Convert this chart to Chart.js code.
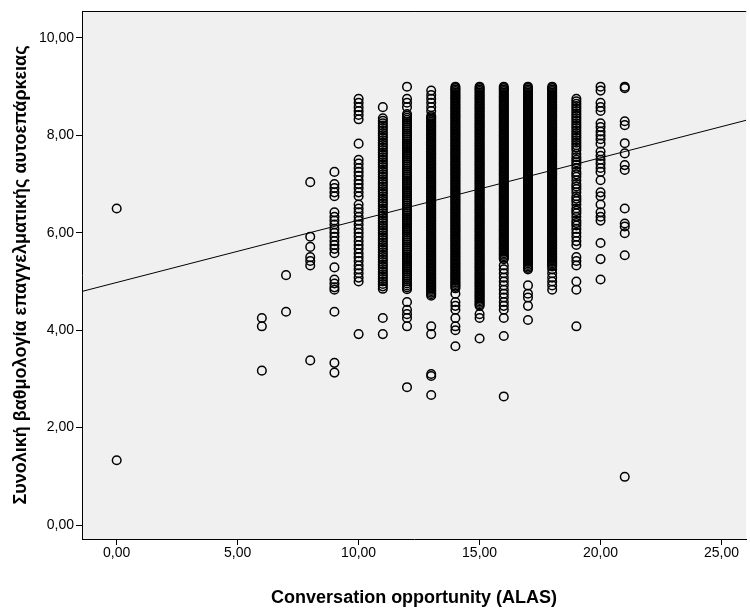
<!DOCTYPE html>
<html>
<head>
<meta charset="utf-8">
<script src="https://cdn.jsdelivr.net/npm/chart.js@4.4.1/dist/chart.umd.min.js"></script>
<style>
html,body{margin:0;padding:0;overflow:hidden;background:#fff;width:750px;height:611px;}
#wrap{width:752px;height:611px;position:relative;}
</style>
</head>
<body>
<div id="wrap"><canvas id="c"></canvas></div>
<script>
// ---- data ----
const xTitle = "Conversation opportunity (ALAS)";
const yTitle = "Συνολική βαθμολογία επαγγελματικής αυτοεπάρκειας";
const xTicks = [0, 5, 10, 15, 20, 25];
const yTicks = [0, 2, 4, 6, 8, 10];
const xMin = -1.434, xMax = 26.02;
const yMin = -0.287, yMax = 10.554;
const regIntercept = 4.98;
const regSlope = 0.128;

const xCategories = [0, 6, 7, 8, 9, 10, 11, 12, 13, 14, 15, 16, 17, 18, 19, 20, 21];

const y0 = [6.50, 1.33];
const y6 = [4.25, 4.08, 3.17];
const y7 = [5.13, 4.38];
const y8 = [7.04, 5.92, 5.71, 5.50, 5.42, 5.33, 3.38];
const y9 = [7.25, 7.00, 6.92, 6.83, 6.75, 6.42, 6.33, 6.25, 6.17, 6.08, 6.00, 5.92, 5.83, 5.75, 5.67, 5.58, 5.29, 5.04, 4.96, 4.88, 4.83, 4.38, 3.33, 3.13];
const y10 = [8.75, 8.67, 8.58, 8.50, 8.42, 8.33, 7.83, 7.50, 7.42, 7.33, 7.25, 7.17, 7.08, 7.00, 6.92, 6.83, 6.75, 6.58, 6.50, 6.42, 6.33, 6.25, 6.17, 6.08, 6.00, 5.92, 5.83, 5.75, 5.67, 5.58, 5.50, 5.42, 5.33, 5.25, 5.17, 5.08, 5.00, 3.92];
const y11 = [8.58, 8.35, 8.30, 8.25, 8.20, 8.15, 8.10, 8.05, 8.00, 7.95, 7.90, 7.85, 7.80, 7.75, 7.70, 7.65, 7.60, 7.55, 7.50, 7.45, 7.40, 7.35, 7.30, 7.25, 7.20, 7.15, 7.10, 7.05, 7.00, 6.95, 6.90, 6.85, 6.80, 6.75, 6.70, 6.65, 6.60, 6.55, 6.50, 6.45, 6.40, 6.35, 6.30, 6.25, 6.20, 6.15, 6.10, 6.05, 6.00, 5.95, 5.90, 5.85, 5.80, 5.75, 5.70, 5.65, 5.60, 5.55, 5.50, 5.45, 5.40, 5.35, 5.30, 5.25, 5.20, 5.15, 5.10, 5.05, 5.00, 4.95, 4.90, 4.85, 4.25, 3.92];
const y12 = [9.00, 8.75, 8.67, 8.58, 8.44, 8.40, 8.36, 8.32, 8.28, 8.24, 8.20, 8.16, 8.12, 8.08, 8.04, 8.00, 7.96, 7.92, 7.88, 7.84, 7.80, 7.76, 7.72, 7.68, 7.64, 7.60, 7.56, 7.52, 7.48, 7.44, 7.40, 7.36, 7.32, 7.28, 7.24, 7.20, 7.16, 7.12, 7.08, 7.04, 7.00, 6.96, 6.92, 6.88, 6.84, 6.80, 6.76, 6.72, 6.68, 6.64, 6.60, 6.56, 6.52, 6.48, 6.44, 6.40, 6.36, 6.32, 6.28, 6.24, 6.20, 6.16, 6.12, 6.08, 6.04, 6.00, 5.96, 5.92, 5.88, 5.84, 5.80, 5.76, 5.72, 5.68, 5.64, 5.60, 5.56, 5.52, 5.48, 5.44, 5.40, 5.36, 5.32, 5.28, 5.24, 5.20, 5.16, 5.12, 5.08, 5.04, 5.00, 4.96, 4.92, 4.88, 4.84, 4.58, 4.42, 4.33, 4.25, 4.08, 2.83];
const y13 = [8.92, 8.83, 8.75, 8.67, 8.58, 8.50, 8.40, 8.37, 8.34, 8.31, 8.28, 8.25, 8.22, 8.19, 8.16, 8.13, 8.10, 8.07, 8.04, 8.01, 7.98, 7.95, 7.92, 7.89, 7.86, 7.83, 7.80, 7.77, 7.74, 7.71, 7.68, 7.65, 7.62, 7.59, 7.56, 7.53, 7.50, 7.47, 7.44, 7.41, 7.38, 7.35, 7.32, 7.29, 7.26, 7.23, 7.20, 7.17, 7.14, 7.11, 7.08, 7.05, 7.02, 6.99, 6.96, 6.93, 6.90, 6.87, 6.84, 6.81, 6.78, 6.75, 6.72, 6.69, 6.66, 6.63, 6.60, 6.57, 6.54, 6.51, 6.48, 6.45, 6.42, 6.39, 6.36, 6.33, 6.30, 6.27, 6.24, 6.21, 6.18, 6.15, 6.12, 6.09, 6.06, 6.03, 6.00, 5.97, 5.94, 5.91, 5.88, 5.85, 5.82, 5.79, 5.76, 5.73, 5.70, 5.67, 5.64, 5.61, 5.58, 5.55, 5.52, 5.49, 5.46, 5.43, 5.40, 5.37, 5.34, 5.31, 5.28, 5.25, 5.22, 5.19, 5.16, 5.13, 5.10, 5.07, 5.04, 5.01, 4.98, 4.95, 4.92, 4.89, 4.86, 4.83, 4.80, 4.77, 4.74, 4.71, 4.08, 3.92, 3.10, 3.06, 2.67];
const y14 = [9.00, 8.97, 8.94, 8.91, 8.88, 8.85, 8.82, 8.79, 8.76, 8.73, 8.70, 8.67, 8.64, 8.61, 8.58, 8.55, 8.52, 8.49, 8.46, 8.43, 8.40, 8.37, 8.34, 8.31, 8.28, 8.25, 8.22, 8.19, 8.16, 8.13, 8.10, 8.07, 8.04, 8.01, 7.98, 7.95, 7.92, 7.89, 7.86, 7.83, 7.80, 7.77, 7.74, 7.71, 7.68, 7.65, 7.62, 7.59, 7.56, 7.53, 7.50, 7.47, 7.44, 7.41, 7.38, 7.35, 7.32, 7.29, 7.26, 7.23, 7.20, 7.17, 7.14, 7.11, 7.08, 7.05, 7.02, 6.99, 6.96, 6.93, 6.90, 6.87, 6.84, 6.81, 6.78, 6.75, 6.72, 6.69, 6.66, 6.63, 6.60, 6.57, 6.54, 6.51, 6.48, 6.45, 6.42, 6.39, 6.36, 6.33, 6.30, 6.27, 6.24, 6.21, 6.18, 6.15, 6.12, 6.09, 6.06, 6.03, 6.00, 5.97, 5.94, 5.91, 5.88, 5.85, 5.82, 5.79, 5.76, 5.73, 5.70, 5.67, 5.64, 5.61, 5.58, 5.55, 5.52, 5.49, 5.46, 5.43, 5.40, 5.37, 5.34, 5.31, 5.28, 5.25, 5.22, 5.19, 5.16, 5.13, 5.10, 5.07, 5.04, 5.01, 4.98, 4.95, 4.92, 4.89, 4.86, 4.75, 4.58, 4.50, 4.42, 4.25, 4.08, 4.00, 3.67];
const y15 = [9.00, 8.97, 8.94, 8.91, 8.88, 8.85, 8.82, 8.79, 8.76, 8.73, 8.70, 8.67, 8.64, 8.61, 8.58, 8.55, 8.52, 8.49, 8.46, 8.43, 8.40, 8.37, 8.34, 8.31, 8.28, 8.25, 8.22, 8.19, 8.16, 8.13, 8.10, 8.07, 8.04, 8.01, 7.98, 7.95, 7.92, 7.89, 7.86, 7.83, 7.80, 7.77, 7.74, 7.71, 7.68, 7.65, 7.62, 7.59, 7.56, 7.53, 7.50, 7.47, 7.44, 7.41, 7.38, 7.35, 7.32, 7.29, 7.26, 7.23, 7.20, 7.17, 7.14, 7.11, 7.08, 7.05, 7.02, 6.99, 6.96, 6.93, 6.90, 6.87, 6.84, 6.81, 6.78, 6.75, 6.72, 6.69, 6.66, 6.63, 6.60, 6.57, 6.54, 6.51, 6.48, 6.45, 6.42, 6.39, 6.36, 6.33, 6.30, 6.27, 6.24, 6.21, 6.18, 6.15, 6.12, 6.09, 6.06, 6.03, 6.00, 5.97, 5.94, 5.91, 5.88, 5.85, 5.82, 5.79, 5.76, 5.73, 5.70, 5.67, 5.64, 5.61, 5.58, 5.55, 5.52, 5.49, 5.46, 5.43, 5.40, 5.37, 5.34, 5.31, 5.28, 5.25, 5.22, 5.19, 5.16, 5.13, 5.10, 5.07, 5.04, 5.01, 4.98, 4.95, 4.92, 4.89, 4.86, 4.83, 4.80, 4.77, 4.74, 4.71, 4.68, 4.65, 4.62, 4.59, 4.56, 4.53, 4.50, 4.33, 4.25, 3.83];
const y16 = [9.00, 8.97, 8.94, 8.91, 8.88, 8.85, 8.82, 8.79, 8.76, 8.73, 8.70, 8.67, 8.64, 8.61, 8.58, 8.55, 8.52, 8.49, 8.46, 8.43, 8.40, 8.37, 8.34, 8.31, 8.28, 8.25, 8.22, 8.19, 8.16, 8.13, 8.10, 8.07, 8.04, 8.01, 7.98, 7.95, 7.92, 7.89, 7.86, 7.83, 7.80, 7.77, 7.74, 7.71, 7.68, 7.65, 7.62, 7.59, 7.56, 7.53, 7.50, 7.47, 7.44, 7.41, 7.38, 7.35, 7.32, 7.29, 7.26, 7.23, 7.20, 7.17, 7.14, 7.11, 7.08, 7.05, 7.02, 6.99, 6.96, 6.93, 6.90, 6.87, 6.84, 6.81, 6.78, 6.75, 6.72, 6.69, 6.66, 6.63, 6.60, 6.57, 6.54, 6.51, 6.48, 6.45, 6.42, 6.39, 6.36, 6.33, 6.30, 6.27, 6.24, 6.21, 6.18, 6.15, 6.12, 6.09, 6.06, 6.03, 6.00, 5.97, 5.94, 5.91, 5.88, 5.85, 5.82, 5.79, 5.76, 5.73, 5.70, 5.67, 5.64, 5.61, 5.58, 5.55, 5.52, 5.49, 5.46, 5.33, 5.25, 5.17, 5.08, 5.00, 4.92, 4.83, 4.75, 4.67, 4.58, 4.50, 4.42, 4.25, 3.88, 2.64];
const y17 = [9.00, 8.97, 8.94, 8.91, 8.88, 8.85, 8.82, 8.79, 8.76, 8.73, 8.70, 8.67, 8.64, 8.61, 8.58, 8.55, 8.52, 8.49, 8.46, 8.43, 8.40, 8.37, 8.34, 8.31, 8.28, 8.25, 8.22, 8.19, 8.16, 8.13, 8.10, 8.07, 8.04, 8.01, 7.98, 7.95, 7.92, 7.89, 7.86, 7.83, 7.80, 7.77, 7.74, 7.71, 7.68, 7.65, 7.62, 7.59, 7.56, 7.53, 7.50, 7.47, 7.44, 7.41, 7.38, 7.35, 7.32, 7.29, 7.26, 7.23, 7.20, 7.17, 7.14, 7.11, 7.08, 7.05, 7.02, 6.99, 6.96, 6.93, 6.90, 6.87, 6.84, 6.81, 6.78, 6.75, 6.72, 6.69, 6.66, 6.63, 6.60, 6.57, 6.54, 6.51, 6.48, 6.45, 6.42, 6.39, 6.36, 6.33, 6.30, 6.27, 6.24, 6.21, 6.18, 6.15, 6.12, 6.09, 6.06, 6.03, 6.00, 5.97, 5.94, 5.91, 5.88, 5.85, 5.82, 5.79, 5.76, 5.73, 5.70, 5.67, 5.64, 5.61, 5.58, 5.55, 5.52, 5.49, 5.46, 5.43, 5.40, 5.37, 5.34, 5.31, 5.28, 5.25, 4.92, 4.75, 4.67, 4.50, 4.21];
const y18 = [9.00, 8.97, 8.94, 8.91, 8.88, 8.85, 8.82, 8.79, 8.76, 8.73, 8.70, 8.67, 8.64, 8.61, 8.58, 8.55, 8.52, 8.49, 8.46, 8.43, 8.40, 8.37, 8.34, 8.31, 8.28, 8.25, 8.22, 8.19, 8.16, 8.13, 8.10, 8.07, 8.04, 8.01, 7.98, 7.95, 7.92, 7.89, 7.86, 7.83, 7.80, 7.77, 7.74, 7.71, 7.68, 7.65, 7.62, 7.59, 7.56, 7.53, 7.50, 7.47, 7.44, 7.41, 7.38, 7.35, 7.32, 7.29, 7.26, 7.23, 7.20, 7.17, 7.14, 7.11, 7.08, 7.05, 7.02, 6.99, 6.96, 6.93, 6.90, 6.87, 6.84, 6.81, 6.78, 6.75, 6.72, 6.69, 6.66, 6.63, 6.60, 6.57, 6.54, 6.51, 6.48, 6.45, 6.42, 6.39, 6.36, 6.33, 6.30, 6.27, 6.24, 6.21, 6.18, 6.15, 6.12, 6.09, 6.06, 6.03, 6.00, 5.97, 5.94, 5.91, 5.88, 5.85, 5.82, 5.79, 5.76, 5.73, 5.70, 5.67, 5.64, 5.61, 5.58, 5.55, 5.52, 5.49, 5.46, 5.43, 5.40, 5.37, 5.34, 5.31, 5.25, 5.17, 5.08, 5.00, 4.92, 4.83];
const y19 = [8.75, 8.70, 8.65, 8.60, 8.55, 8.50, 8.45, 8.40, 8.35, 8.30, 8.25, 8.20, 8.15, 8.10, 8.05, 8.00, 7.95, 7.90, 7.85, 7.80, 7.75, 7.70, 7.62, 7.55, 7.50, 7.45, 7.40, 7.33, 7.25, 7.20, 7.15, 7.08, 7.00, 6.95, 6.90, 6.83, 6.75, 6.70, 6.65, 6.58, 6.50, 6.45, 6.40, 6.33, 6.25, 6.20, 6.15, 6.08, 6.00, 5.92, 5.83, 5.75, 5.50, 5.42, 5.33, 5.00, 4.83, 4.08];
const y20 = [9.00, 8.92, 8.67, 8.58, 8.50, 8.25, 8.17, 8.08, 8.00, 7.92, 7.83, 7.67, 7.58, 7.50, 7.42, 7.33, 7.25, 7.08, 6.83, 6.75, 6.58, 6.42, 6.33, 6.25, 5.79, 5.46, 5.04];
const y21 = [9.00, 8.97, 8.29, 8.21, 7.84, 7.63, 7.39, 7.29, 6.50, 6.19, 6.13, 5.99, 5.54, 0.99];

const yColumns = [y0, y6, y7, y8, y9, y10, y11, y12, y13, y14, y15, y16, y17, y18, y19, y20, y21];

// ---- build chart data ----
const points = [];
xCategories.forEach((xv, i) => {
  yColumns[i].forEach(yv => points.push({x: xv, y: yv}));
});
const regLine = [
  {x: xMin, y: regIntercept + regSlope * xMin},
  {x: xMax, y: regIntercept + regSlope * xMax}
];

const fmt = v => Number(v).toFixed(2).replace('.', ',');
const tickFont = {family: '"Liberation Sans", Arial, sans-serif', size: 14};
const titleFont = {family: '"Liberation Sans", Arial, sans-serif', size: 18, weight: 'bold'};

const frame = {
  id: 'frame',
  beforeDraw(chart) {
    const {ctx, chartArea: a} = chart;
    ctx.save();
    ctx.fillStyle = '#f0f0f0';
    ctx.fillRect(a.left, a.top, a.right - a.left, a.bottom - a.top);
    ctx.restore();
  },
  afterDraw(chart) {
    const {ctx, chartArea: a} = chart;
    ctx.save();
    ctx.strokeStyle = '#000';
    ctx.lineWidth = 1;
    ctx.beginPath();
    ctx.moveTo(a.left, a.top + 0.5);
    ctx.lineTo(a.right, a.top + 0.5);
    ctx.stroke();
    ctx.restore();
  }
};

new Chart(document.getElementById('c'), {
  type: 'scatter',
  data: {
    datasets: [
      {
        type: 'scatter',
        data: points,
        pointStyle: 'circle',
        pointRadius: 4.3,
        pointBorderWidth: 1.5,
        borderColor: '#000',
        backgroundColor: 'rgba(0,0,0,0)',
        order: 2
      },
      {
        type: 'line',
        data: regLine,
        borderColor: '#000',
        borderWidth: 1,
        pointRadius: 0,
        fill: false,
        order: 1
      }
    ]
  },
  options: {
    responsive: true,
    maintainAspectRatio: false,
    animation: false,
    events: [],
    layout: {padding: {top: 11, left: 0, right: 0, bottom: 0}},
    plugins: {legend: {display: false}, tooltip: {enabled: false}},
    scales: {
      x: {
        type: 'linear',
        min: xMin,
        max: xMax,
        afterBuildTicks: s => { s.ticks = xTicks.map(v => ({value: v})); },
        afterFit: s => { s.height = 72; },
        ticks: {callback: v => fmt(v), font: tickFont, color: '#000', padding: 0, maxRotation: 0, autoSkip: false},
        grid: {drawOnChartArea: false, drawTicks: true, tickLength: 6, color: '#000', lineWidth: 1},
        border: {display: true, color: '#000', width: 1},
        title: {display: true, text: xTitle, font: titleFont, color: '#000', padding: {top: 0, bottom: 2}}
      },
      y: {
        type: 'linear',
        min: yMin,
        max: yMax,
        afterBuildTicks: s => { s.ticks = yTicks.map(v => ({value: v})); },
        afterFit: s => { s.width = 82; },
        ticks: {callback: v => fmt(v), font: tickFont, color: '#000', padding: 2, autoSkip: false},
        grid: {drawOnChartArea: false, drawTicks: true, tickLength: 6, color: '#000', lineWidth: 1},
        border: {display: true, color: '#000', width: 1},
        title: {display: true, text: yTitle, font: titleFont, color: '#000', padding: {top: 10, bottom: 0}}
      }
    }
  },
  plugins: [frame]
});
</script>
</body>
</html>
